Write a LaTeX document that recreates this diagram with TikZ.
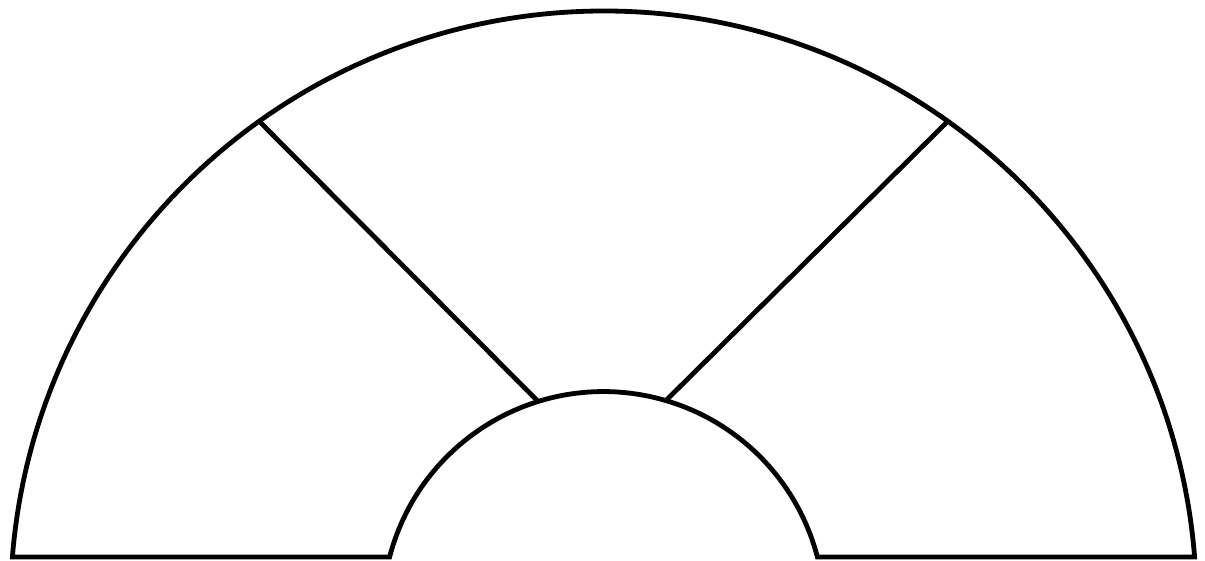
\documentclass[tikz,border=0pt]{standalone}
\begin{document}
\begin{tikzpicture}[x=1pt,y=1pt,
  outline/.style={draw=black,line width=4.8pt,line join=miter},
  divider/.style={draw=black,line width=4.8pt}]
\useasboundingbox[fill=white] (0,0) rectangle (1205,561);
\coordinate (oc) at (603.5,-43);
\coordinate (ic) at (603.5,-51.6);
\coordinate (o1) at ([shift={(4.55:593pt)}]oc);
\coordinate (i1) at ([shift={(165.43:221pt)}]ic);
\coordinate (lo) at ([shift={(125.5:593pt)}]oc);
\coordinate (li) at ([shift={(107.2:221pt)}]ic);
\coordinate (ro) at ([shift={(54.5:593pt)}]oc);
\coordinate (ri) at ([shift={(73.6:221pt)}]ic);
\draw[outline] (o1) arc[start angle=4.55,end angle=175.45,radius=593pt]
  -- (i1) arc[start angle=165.43,end angle=14.57,radius=221pt] -- cycle;
\draw[divider] (lo) -- (li);
\draw[divider] (ro) -- (ri);
\end{tikzpicture}
\end{document}
